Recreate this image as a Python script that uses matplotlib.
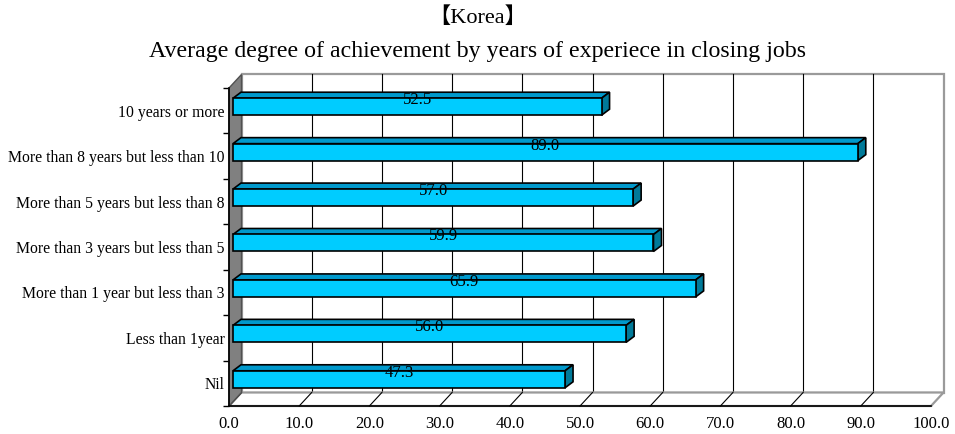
import numpy as np
import matplotlib
matplotlib.use('Agg')
from matplotlib import pyplot as plt
from matplotlib.patches import Polygon, Rectangle

categories = ['Nil', 'Less than 1year', 'More than 1 year but less than 3',
              'More than 3 years but less than 5', 'More than 5 years but less than 8',
              'More than 8 years but less than 10', '10 years or more']
values = [47.3, 56.0, 65.9, 59.9, 57.0, 89.0, 52.5]
xticks = np.arange(0, 101, 10)

plt.rcParams['font.family'] = ['Liberation Serif', 'Noto Sans CJK JP', 'DejaVu Serif']

W, H = 955, 434
fig = plt.figure(figsize=(W / 100, H / 100), dpi=100)

# front edge of the plot box, pixels
L, R, B, T = 229, 931, 406, 88
ax = fig.add_axes([L / W, 1 - B / H, (R - L) / W, (B - T) / H])
ax.set_xlim(0, 100)
ax.set_ylim(-0.5, len(categories) - 0.5)
for s in ax.spines.values():
    s.set_visible(False)
ax.patch.set_visible(False)

px_x = 100 / (R - L)
px_y = len(categories) / (B - T)

# depth of the box and of the bars
dx, dy = 12.5 * px_x, 13.5 * px_y
bx, by = 4 * px_x, 4 * px_y
ddx, ddy = 8 * px_x, 6 * px_y
bh = 17 * px_y

y0, y1 = -0.5, len(categories) - 0.5
kw = dict(clip_on=False)

# back wall + grid
ax.add_patch(Rectangle((dx, y0 + dy), 100, y1 - y0, fc='white', ec='#9a9a9a', lw=1.6, zorder=1, **kw))
for x in xticks[1:-1]:
    ax.plot([x + dx, x + dx], [y0 + dy, y1 + dy], color='black', lw=0.8, zorder=2, **kw)

# floor
ax.add_patch(Polygon([(0, y0), (100, y0), (100 + dx, y0 + dy), (dx, y0 + dy)],
                     closed=True, fc='white', ec='#9a9a9a', lw=1.6, zorder=2, **kw))
for x in xticks[:-1]:
    ax.plot([x, x + dx], [y0, y0 + dy], color='black', lw=0.8, zorder=3, **kw)
ax.plot([0, 100], [y0, y0], color='black', lw=1.2, zorder=4, **kw)

# side wall
ax.add_patch(Polygon([(0, y0), (dx, y0 + dy), (dx, y1 + dy), (0, y1)],
                     closed=True, fc='#808080', ec='#505050', lw=1.0, zorder=3, **kw))
ax.plot([0, 0], [y0, y1], color='black', lw=1.2, zorder=4, **kw)

# bars
for i, v in enumerate(values):
    bot = i + by - bh / 2
    top = bot + bh
    ax.add_patch(Polygon([(bx, top), (bx + v, top), (bx + v + ddx, top + ddy), (bx + ddx, top + ddy)],
                         closed=True, fc='#0099cc', ec='black', lw=1.2, zorder=5, **kw))
    ax.add_patch(Polygon([(bx + v, bot), (bx + v, top), (bx + v + ddx, top + ddy), (bx + v + ddx, bot + ddy)],
                         closed=True, fc='#007a99', ec='black', lw=1.2, zorder=5, **kw))
    ax.add_patch(Rectangle((bx, bot), v, bh, fc='#00ccff', ec='black', lw=1.2, zorder=6, **kw))
    ax.text(bx + v / 2, top - 2 * px_y, f'{v:.1f}', ha='center', va='center',
            fontsize=12, zorder=7)

ax.set_xticks(xticks)
ax.set_xticklabels([f'{x:.1f}' for x in xticks], fontsize=12)
ax.tick_params(axis='x', direction='in', length=5, width=1, pad=7)

ax.set_yticks(range(len(categories)))
ax.set_yticklabels(categories, fontsize=11.3)
ax.tick_params(axis='y', length=0, pad=3)
ax.set_yticks(np.arange(y0, y1 + 0.1, 1), minor=True)
ax.tick_params(axis='y', which='minor', direction='out', length=4, width=1)

fig.text(0.5, 1 - 18 / H, '【Korea】', ha='center', va='center', fontsize=16)
fig.text(0.5, 1 - 52 / H, 'Average degree of achievement by years of experiece in closing jobs',
         ha='center', va='center', fontsize=17.2)

fig.savefig('out.png', dpi=100)
